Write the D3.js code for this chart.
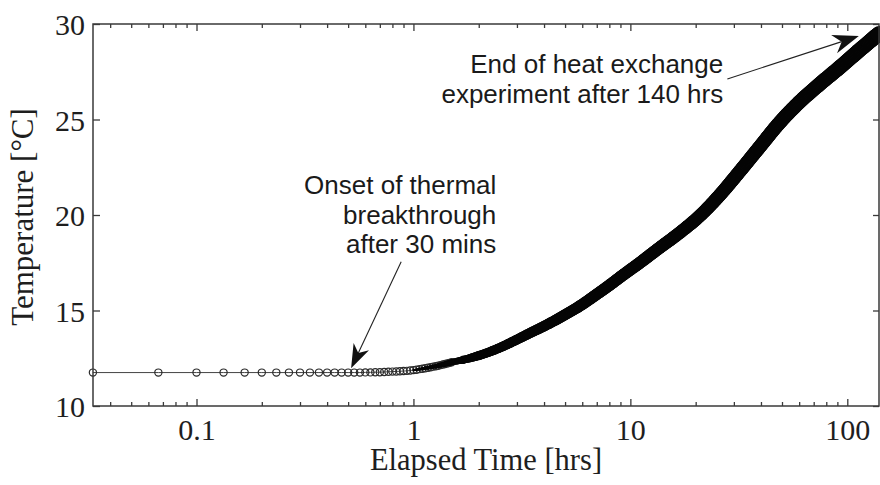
<!DOCTYPE html>
<html>
<head>
<meta charset="utf-8">
<script src="https://cdn.jsdelivr.net/npm/d3@7"></script>
<style>
  html, body { margin: 0; padding: 0; background: #fff; }
  svg { display: block; }
</style>
</head>
<body>
<svg id="chart" width="880" height="485"></svg>
<script>
// ---------------- data ----------------
const timeHrs = [
  0.0333, 0.0667, 0.1, 0.1333, 0.1667, 0.2, 0.2333, 0.2667, 0.3, 0.3333,
  0.3667, 0.4, 0.4333, 0.4667, 0.5, 0.5333, 0.5667, 0.6, 0.6333, 0.6667,
  0.7, 0.7333, 0.7667, 0.8, 0.8333, 0.8667, 0.9, 0.9333, 0.9667, 1.0,
  1.0333, 1.0667, 1.1, 1.1333, 1.1667, 1.2, 1.2333, 1.2667, 1.3, 1.3333,
  1.3667, 1.4, 1.4333, 1.4667, 1.5,
  1.7, 2.0, 2.5, 3.0, 3.5, 4.0, 5.0, 6.0, 7.0, 8.0, 9.0, 11, 13.5, 17, 21,
  26, 32, 40, 48, 60, 74, 92, 113, 140
];
const temperatureC = [
  11.75, 11.75, 11.75, 11.75, 11.75, 11.75, 11.75, 11.75, 11.75, 11.75,
  11.75, 11.75, 11.75, 11.75, 11.75, 11.75, 11.75, 11.76, 11.76, 11.77,
  11.77, 11.78, 11.79, 11.80, 11.81, 11.82, 11.83, 11.84, 11.86, 11.88,
  11.90, 11.93, 11.95, 11.98, 12.00, 12.03, 12.06, 12.08, 12.11, 12.14,
  12.17, 12.20, 12.23, 12.26, 12.29,
  12.42, 12.64, 13.05, 13.48, 13.86, 14.18, 14.78, 15.32, 15.85, 16.32, 16.76, 17.48, 18.25, 19.10, 19.98,
  21.08, 22.30, 23.65, 24.75, 25.90, 26.82, 27.72, 28.60, 29.50
];
const xDomain = [1 / 30, 140];
const yDomain = [10, 30];
const xMajorTicks = [0.1, 1, 10, 100];
const xMajorLabels = ["0.1", "1", "10", "100"];
const xMinorTicks = [0.04, 0.05, 0.06, 0.07, 0.08, 0.09,
  0.2, 0.3, 0.4, 0.5, 0.6, 0.7, 0.8, 0.9,
  2, 3, 4, 5, 6, 7, 8, 9,
  20, 30, 40, 50, 60, 70, 80, 90];
const yTicks = [10, 15, 20, 25, 30];
const yLabels = ["10", "15", "20", "25", "30"];
const xTitle = "Elapsed Time [hrs]";
const yTitle = "Temperature [°C]";
// annotations: text lines, text anchor point (t, T of first baseline), arrow tail & tip (t, T)
const note1Lines = ["Onset of thermal", "breakthrough", "after 30 mins"];
const note1Anchor = [2.41, 21.1];
const note1Arrow = [[0.878, 17.55], [0.516, 11.97]];
const note2Lines = ["End of heat exchange", "experiment after 140 hrs"];
const note2Anchor = [26.8, 27.43];
const note2Arrow = [[28.0, 27.12], [113, 29.37]];

// ---------------- layout ----------------
const L = 93, R = 879, T = 24, B = 406;
const svg = d3.select("#chart");
const x = d3.scaleLog().domain(xDomain).range([L, R]);
const y = d3.scaleLinear().domain(yDomain).range([B, T]);
const ink = "#1e1e1e";
const axisInk = "#3a3a3a";
const serif = "'Liberation Serif', 'Times New Roman', serif";
const sans = "'Liberation Sans', Arial, Helvetica, sans-serif";

const pts = timeHrs.map((t, i) => ({ t, v: temperatureC[i] }));
const smoothLine = d3.line().x(d => x(d.t)).y(d => y(d.v)).curve(d3.curveMonotoneX);

// connecting thin line
svg.append("path")
  .datum(pts)
  .attr("fill", "none")
  .attr("stroke", "#444")
  .attr("stroke-width", 1)
  .attr("d", smoothLine);

// circle markers
svg.append("g").selectAll("circle").data(pts).join("circle")
  .attr("cx", d => x(d.t)).attr("cy", d => y(d.v))
  .attr("r", 3.6)
  .attr("fill", "none")
  .attr("stroke", "#2a2a2a")
  .attr("stroke-width", 1.2);

// dense marker pile-up (thousands of overlapping circles) drawn as a band
const bandWidth = d3.scaleLog()
  .domain([1, 1.5, 2, 5, 10, 30, 140])
  .range([2, 6, 9, 11, 12, 13.5, 15])
  .clamp(true);
const densePts = pts.filter(d => d.t >= 1);
const guide = svg.append("path").datum(densePts)
  .attr("d", smoothLine).attr("fill", "none").attr("stroke", "none");
const gNode = guide.node();
const totalLen = gNode.getTotalLength();
const samples = d3.range(0, totalLen, 1.5).concat([totalLen]).map(l => gNode.getPointAtLength(l));
const bandG = svg.append("g");
d3.pairs(samples).forEach(([a, b]) => {
  const w = bandWidth(x.invert((a.x + b.x) / 2));
  bandG.append("line")
    .attr("x1", a.x).attr("y1", a.y).attr("x2", b.x).attr("y2", b.y)
    .attr("stroke", "#050505").attr("stroke-linecap", "round")
    .attr("stroke-width", w);
});

// ---------------- axes ----------------
function styleAxis(g) {
  g.select(".domain").remove();
  g.selectAll(".tick line").attr("stroke", axisInk).attr("stroke-width", 1.3);
  g.selectAll(".tick text").attr("fill", ink).attr("font-family", serif).attr("font-size", 30);
}
svg.append("g").attr("transform", `translate(0,${B})`)
  .call(d3.axisBottom(x).tickValues(xMajorTicks).tickSize(-7).tickPadding(12)
    .tickFormat((d, i) => xMajorLabels[i]))
  .call(styleAxis)
  .call(g => g.selectAll(".tick text").attr("dy", "0.72em"));
svg.append("g").attr("transform", `translate(0,${B})`)
  .call(d3.axisBottom(x).tickValues(xMinorTicks).tickSize(-4).tickFormat(""))
  .call(styleAxis);
svg.append("g").attr("transform", `translate(0,${T})`)
  .call(d3.axisTop(x).tickValues(xMajorTicks).tickSize(-7).tickFormat(""))
  .call(styleAxis);
svg.append("g").attr("transform", `translate(0,${T})`)
  .call(d3.axisTop(x).tickValues(xMinorTicks).tickSize(-4).tickFormat(""))
  .call(styleAxis);
svg.append("g").attr("transform", `translate(${L},0)`)
  .call(d3.axisLeft(y).tickValues(yTicks).tickSize(-7).tickPadding(8)
    .tickFormat((d, i) => yLabels[i]))
  .call(styleAxis)
  .call(g => g.selectAll(".tick text").attr("dy", "0.36em"));
svg.append("g").attr("transform", `translate(${R},0)`)
  .call(d3.axisRight(y).tickValues(yTicks).tickSize(-6).tickFormat(""))
  .call(styleAxis);

// frame
svg.append("rect")
  .attr("x", L).attr("y", T).attr("width", R - L).attr("height", B - T)
  .attr("fill", "none").attr("stroke", axisInk).attr("stroke-width", 1.5);

// titles
svg.append("text")
  .attr("x", (L + R) / 2).attr("y", 470)
  .attr("text-anchor", "middle")
  .attr("font-family", serif).attr("font-size", 30.5).attr("fill", ink)
  .text(xTitle);
svg.append("text")
  .attr("transform", `translate(33,${(T + B) / 2 + 2}) rotate(-90)`)
  .attr("text-anchor", "middle")
  .attr("font-family", serif).attr("font-size", 31).attr("fill", ink)
  .text(yTitle);

// ---------------- annotations ----------------
function arrow(tail, tip, len, hw, notch) {
  const x0 = x(tail[0]), y0 = y(tail[1]), x1 = x(tip[0]), y1 = y(tip[1]);
  const dx = x1 - x0, dy = y1 - y0, d = Math.hypot(dx, dy);
  const ux = dx / d, uy = dy / d, px = -uy, py = ux;
  svg.append("line")
    .attr("x1", x0).attr("y1", y0)
    .attr("x2", x1 - ux * notch).attr("y2", y1 - uy * notch)
    .attr("stroke", "#222").attr("stroke-width", 1.1);
  const p = [
    [x1, y1],
    [x1 - ux * len + px * hw, y1 - uy * len + py * hw],
    [x1 - ux * notch, y1 - uy * notch],
    [x1 - ux * len - px * hw, y1 - uy * len - py * hw]
  ];
  svg.append("path").attr("d", "M" + p.map(q => q.join(",")).join("L") + "Z")
    .attr("fill", "#111");
}
function note(lines, anchor) {
  const t = svg.append("text")
    .attr("font-family", sans).attr("font-size", 26).attr("fill", "#1a1a1a")
    .attr("text-anchor", "end");
  lines.forEach((s, i) => {
    t.append("tspan").attr("x", x(anchor[0])).attr("y", y(anchor[1]) + i * 29.7).text(s);
  });
}
note(note1Lines, note1Anchor);
arrow(note1Arrow[0], note1Arrow[1], 24, 8.5, 17);
note(note2Lines, note2Anchor);
arrow(note2Arrow[0], note2Arrow[1], 26, 9.5, 18);
</script>
</body>
</html>
